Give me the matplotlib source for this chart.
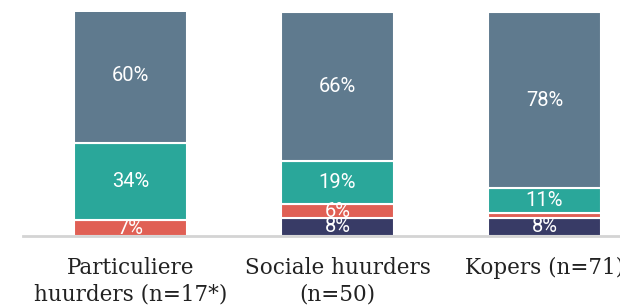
import matplotlib.pyplot as plt

# data
groups = ["Particuliere\nhuurders (n=17*)", "Sociale huurders\n(n=50)", "Kopers (n=71)"]
navy = [0, 8, 8]
red = [7, 6, 2]
teal = [34, 19, 11]
slate = [60, 66, 78]

series = [navy, red, teal, slate]
colors = ["#383b66", "#e06055", "#2aa79a", "#5f7a8e"]

fig = plt.figure(figsize=(6.2, 3.08), dpi=100)
ax = fig.add_axes([23 / 620, 1 - 236 / 308, 629 / 620, 224 / 308])

x = range(len(groups))
bottom = [0] * len(groups)
for vals, col in zip(series, colors):
    ax.bar(x, vals, bottom=bottom, width=0.546, color=col,
           edgecolor="white", linewidth=1.5)
    for i, v in enumerate(vals):
        if v >= 5:
            t = ax.text(i, bottom[i] + v / 2, f"{v}%", ha="center", va="center",
                        color="white", fontsize=14.5, family="Roboto")
            t.set_clip_on(True)
    bottom = [b + v for b, v in zip(bottom, vals)]

ax.set_xlim(-0.52, 2.52)
ax.set_ylim(0, 99)
ax.set_xticks(list(x))
ax.set_xticklabels(groups, family="DejaVu Serif", fontsize=15.5, color="#222222",
                   linespacing=1.3)
ax.tick_params(axis="x", length=0, pad=15)
ax.set_yticks([])
for s in ["top", "right", "left"]:
    ax.spines[s].set_visible(False)
ax.spines["bottom"].set_color("#d4d4d4")
ax.spines["bottom"].set_linewidth(2)
ax.spines["bottom"].set_zorder(5)

fig.savefig("out.png", dpi=100)
